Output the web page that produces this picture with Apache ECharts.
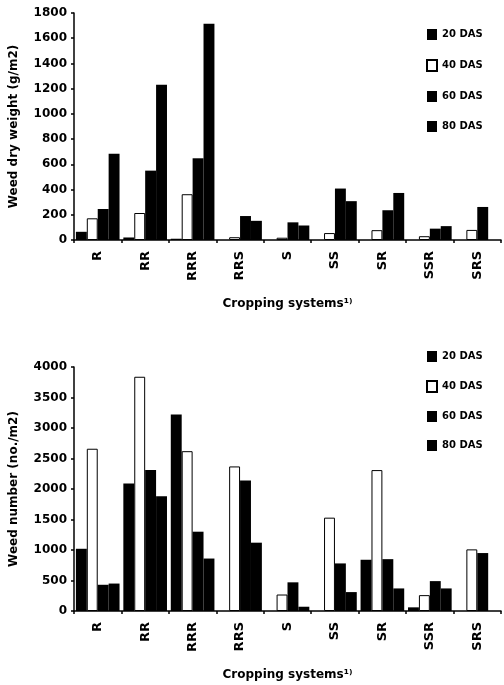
<!DOCTYPE html>
<html>
<head>
<meta charset="utf-8">
<script src="https://cdn.jsdelivr.net/npm/echarts@6/dist/echarts.min.js"></script>
<style>
html,body{margin:0;padding:0;background:#fff;}
#c{width:504px;height:685px;}
</style>
</head>
<body>
<div id="c"></div>
<script>
const categories = ['R','RR','RRR','RRS','S','SS','SR','SSR','SRS'];
const seriesNames = ['20 DAS','40 DAS','60 DAS','80 DAS'];

// Weed dry weight (g/m2)
const dry20 = [65, 20, 10, 0, 0, 0, 0, 0, 0];
const dry40 = [172, 214, 363, 22, 18, 55, 78, 30, 80];
const dry60 = [246, 550, 648, 190, 140, 408, 236, 90, 262];
const dry80 = [683, 1232, 1715, 152, 115, 308, 373, 110, 0];

// Weed number (no./m2)
const num20 = [1020, 2090, 3220, 0, 0, 0, 840, 60, 0];
const num40 = [2660, 3840, 2620, 2370, 270, 1530, 2310, 260, 1010];
const num60 = [430, 2310, 1300, 2140, 470, 780, 850, 490, 950];
const num80 = [450, 1880, 860, 1120, 70, 310, 370, 370, 0];

const FONT = 'DejaVu Sans';
const styles = [
  {color:'#000', borderColor:'#000', borderWidth:0},
  {color:'#fff', borderColor:'#000', borderWidth:1},
  {color:'#000', borderColor:'#000', borderWidth:0},
  {color:'#000', borderColor:'#000', borderWidth:0}
];

function mkSeries(dataArr, idx){
  return dataArr.map((d,i)=>({
    name: seriesNames[i], type:'bar', xAxisIndex: idx, yAxisIndex: idx,
    data: d, barGap:'0%', barCategoryGap:'8%',
    itemStyle: styles[i], animation:false
  }));
}

function xAx(idx){
  return {
    type:'category', gridIndex: idx, data: categories,
    name:'Cropping systems¹⁾', nameLocation:'middle', nameGap:58,
    nameTextStyle:{fontFamily:FONT, fontWeight:'bold', fontSize:12, color:'#000'},
    axisLine:{lineStyle:{color:'#000', width:1.5}},
    axisTick:{show:true, length:3, lineStyle:{color:'#000', width:1.5}},
    axisLabel:{rotate:90, margin:11, fontFamily:FONT, fontWeight:'bold', fontSize:13, color:'#000', interval:0}
  };
}
function yAx(idx, name, max, interval){
  return {
    type:'value', gridIndex: idx, min:0, max:max, interval:interval,
    name:name, nameLocation:'middle', nameGap:54,
    nameTextStyle:{fontFamily:FONT, fontWeight:'bold', fontSize:12, color:'#000'},
    axisLine:{show:true, lineStyle:{color:'#000', width:1.5}},
    axisTick:{show:true, length:3, lineStyle:{color:'#000', width:1.5}},
    splitLine:{show:false},
    axisLabel:{margin:7, fontFamily:FONT, fontWeight:'bold', fontSize:12, color:'#000',
      formatter: v => String(v)}
  };
}
function legend(idx, top, gap){
  return {
    orient:'vertical', left:421, top:top, itemGap:gap,
    itemWidth:10, itemHeight:11, icon:'rect',
    data: seriesNames,
    textStyle:{fontFamily:FONT, fontWeight:'bold', fontSize:10, color:'#000'},
    selectedMode:false
  };
}

const chart = echarts.init(document.getElementById('c'), null, {renderer:'canvas'});
chart.setOption({
  backgroundColor:'#fff',
  animation:false,
  grid:[
    {left:72, right:3, top:13, height:227},
    {left:72, right:3, top:367, height:244}
  ],
  legend:[legend(0, 24, 19), legend(1, 346, 18)],
  xAxis:[xAx(0), xAx(1)],
  yAxis:[yAx(0,'Weed dry weight (g/m2)',1800,200), yAx(1,'Weed number (no./m2)',4000,500)],
  series:[].concat(mkSeries([dry20,dry40,dry60,dry80],0), mkSeries([num20,num40,num60,num80],1))
});
</script>
</body>
</html>
